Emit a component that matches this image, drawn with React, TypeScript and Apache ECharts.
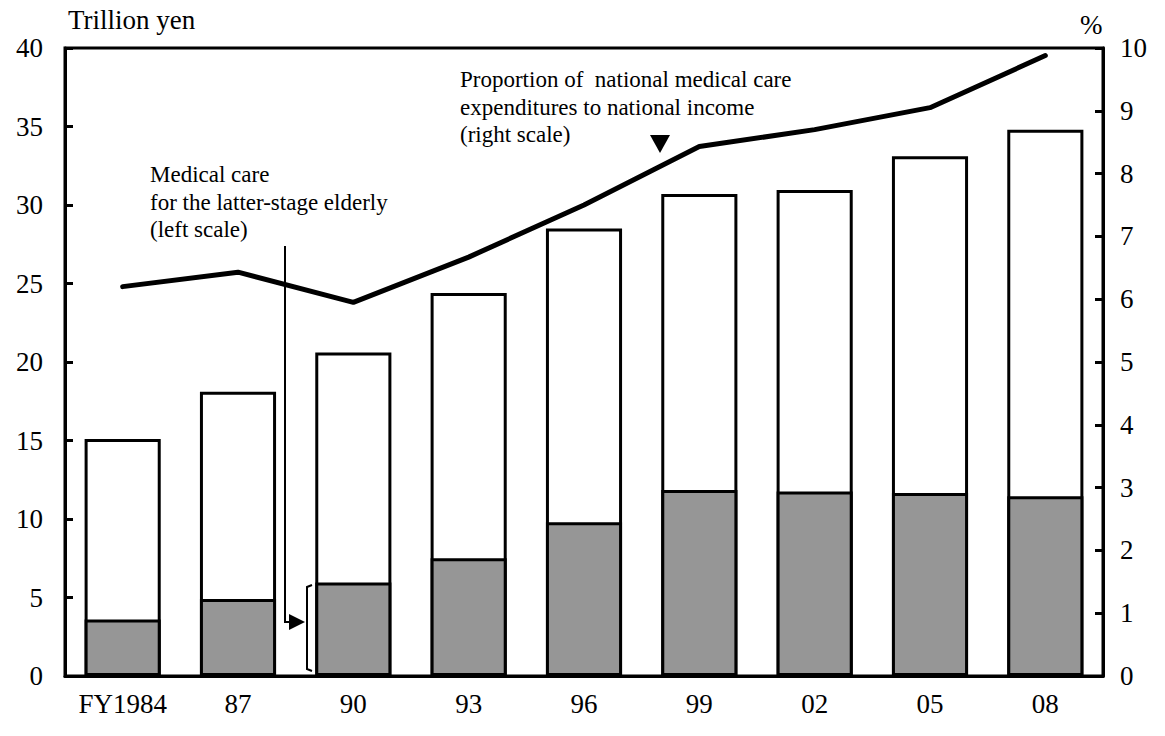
import React, { useEffect, useRef } from "react";
import * as echarts from "echarts";

const categories = ["FY1984", "87", "90", "93", "96", "99", "02", "05", "08"];
// Medical care for the latter-stage elderly (trillion yen, left scale)
const elderlyCare = [3.6, 4.9, 5.95, 7.5, 9.8, 11.85, 11.75, 11.65, 11.45];
// National medical care expenditures, total (trillion yen, left scale)
const totalCare = [15.1, 18.1, 20.6, 24.4, 28.5, 30.7, 30.95, 33.1, 34.8];
// Proportion to national income (%, right scale)
const proportion = [6.2, 6.43, 5.95, 6.67, 7.5, 8.43, 8.7, 9.05, 9.88];

const leftTicks = { min: 0, max: 40, interval: 5 };
const rightTicks = { min: 0, max: 10, interval: 1 };

const FONT = "'Liberation Serif', 'Times New Roman', serif";

export default function App() {
  const ref = useRef<HTMLDivElement>(null);
  useEffect(() => {
    if (!ref.current) return;
    const chart = echarts.init(ref.current, null, { renderer: "svg" });
    const annoStyle = { fontFamily: FONT, fontSize: 23, fill: "#000", lineHeight: 27.5 };
    chart.setOption({
      animation: false,
      backgroundColor: "#fff",
      textStyle: { fontFamily: FONT, color: "#000" },
      grid: {
        left: 65,
        right: 62,
        top: 48,
        bottom: 60,
        show: true,
        borderColor: "#000",
        borderWidth: 3,
        backgroundColor: "transparent",
      },
      xAxis: {
        type: "category",
        data: categories,
        axisLine: { show: true, lineStyle: { color: "#000", width: 3 } },
        axisTick: { show: false },
        axisLabel: { fontFamily: FONT, fontSize: 27, color: "#000", margin: 14 },
      },
      yAxis: [
        {
          type: "value",
          ...leftTicks,
          axisLine: { show: true, lineStyle: { color: "#000", width: 3 } },
          axisTick: { show: true, inside: true, length: 8, lineStyle: { color: "#000", width: 3 } },
          axisLabel: { fontFamily: FONT, fontSize: 27, color: "#000", margin: 22 },
          splitLine: { show: false },
        },
        {
          type: "value",
          ...rightTicks,
          position: "right",
          axisLine: { show: true, lineStyle: { color: "#000", width: 3 } },
          axisTick: { show: true, inside: true, length: 8, lineStyle: { color: "#000", width: 3 } },
          axisLabel: { fontFamily: FONT, fontSize: 27, color: "#000", margin: 17 },
          splitLine: { show: false },
        },
      ],
      series: [
        {
          name: "National medical care expenditures",
          type: "bar",
          data: totalCare,
          barWidth: "66%",
          barGap: "-100%",
          itemStyle: { color: "#fff", borderColor: "#000", borderWidth: 3 },
          z: 2,
        },
        {
          name: "Medical care for the latter-stage elderly",
          type: "bar",
          data: elderlyCare,
          barWidth: "66%",
          barGap: "-100%",
          itemStyle: { color: "#969696", borderColor: "#000", borderWidth: 3 },
          z: 3,
        },
        {
          name: "Proportion",
          type: "line",
          yAxisIndex: 1,
          data: proportion,
          symbol: "none",
          lineStyle: { color: "#000", width: 5, cap: "round", join: "round" },
          z: 5,
        },
      ],
      graphic: [
        { type: "text", left: 68, top: 6, style: { text: "Trillion yen", fontFamily: FONT, fontSize: 27, fill: "#000" } },
        { type: "text", left: 1080, top: 11, style: { text: "%", fontFamily: FONT, fontSize: 27, fill: "#000" } },
        {
          type: "text",
          left: 460,
          top: 66,
          style: {
            ...annoStyle,
            text: "Proportion of  national medical care\nexpenditures to national income\n(right scale)",
          },
        },
        {
          type: "polygon",
          shape: { points: [[650, 135], [670, 135], [660, 153]] },
          style: { fill: "#000" },
        },
        {
          type: "text",
          left: 150,
          top: 161,
          style: {
            ...annoStyle,
            text: "Medical care\nfor the latter-stage elderly\n(left scale)",
          },
        },
        {
          type: "polyline",
          shape: { points: [[285, 246], [285, 622], [292, 622]] },
          style: { stroke: "#000", lineWidth: 2, fill: "none" },
        },
        {
          type: "polygon",
          shape: { points: [[289, 614], [305, 622], [289, 630]] },
          style: { fill: "#000" },
        },
        {
          type: "polyline",
          shape: { points: [[312, 585], [307, 587], [307, 669], [312, 671]] },
          style: { stroke: "#000", lineWidth: 2, fill: "none" },
        },
      ],
    });
    return () => chart.dispose();
  }, []);
  return (
    <div
      ref={ref}
      style={{ position: "fixed", left: 0, top: 0, width: 1165, height: 736, background: "#fff" }}
    />
  );
}
